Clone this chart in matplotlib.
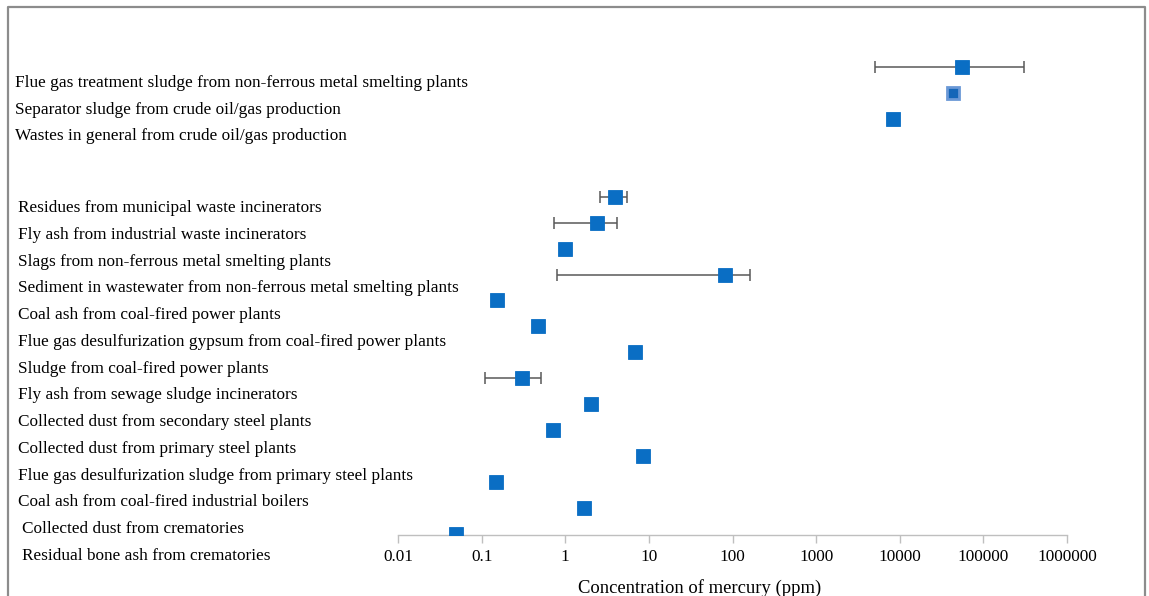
import numpy as np
import matplotlib.pyplot as plt

W, H = 1149, 596

# Waste categories, grouped as drawn (top group: oil/gas and smelting sludge)
top_labels = [
    "Flue gas treatment sludge from non-ferrous metal smelting plants",
    "Separator sludge from crude oil/gas production",
    "Wastes in general from crude oil/gas production",
]
top_values = [55700, 43600, 8340]
top_low = [5100, np.nan, np.nan]
top_high = [307000, np.nan, np.nan]

bottom_labels = [
    "Residues from municipal waste incinerators",
    "Fly ash from industrial waste incinerators",
    "Slags from non-ferrous metal smelting plants",
    "Sediment in wastewater from non-ferrous metal smelting plants",
    "Coal ash from coal-fired power plants",
    "Flue gas desulfurization gypsum from coal-fired power plants",
    "Sludge from coal-fired power plants",
    "Fly ash from sewage sludge incinerators",
    "Collected dust from secondary steel plants",
    "Collected dust from primary steel plants",
    "Flue gas desulfurization sludge from primary steel plants",
    "Coal ash from coal-fired industrial boilers",
    "Collected dust from crematories",
    "Residual bone ash from crematories",
]
bottom_values = [3.95, 2.4, 1.0, 81.5, 0.153, 0.47, 6.8, 0.30, 2.04, 0.71, 8.5, 0.15, 1.68, 0.05]
bottom_low = [2.6, 0.73, np.nan, 0.80, np.nan, np.nan, np.nan, 0.11, np.nan, np.nan, np.nan, np.nan, np.nan, np.nan]
bottom_high = [5.5, 4.17, np.nan, 163, np.nan, np.nan, np.nan, 0.51, np.nan, np.nan, np.nan, np.nan, np.nan, np.nan]

tick_values = [0.01, 0.1, 1, 10, 100, 1000, 10000, 100000, 1000000]
tick_labels = ["0.01", "0.1", "1", "10", "100", "1000", "10000", "100000", "1000000"]

plt.rcParams["font.family"] = ["Liberation Serif", "DejaVu Serif"]
fig = plt.figure(figsize=(W / 100, H / 100), dpi=100)

# outer frame (open at the bottom)
fig.add_artist(plt.Line2D([8 / W, 8 / W, 1145 / W, 1145 / W],
                          [0, 1 - 6.5 / H, 1 - 6.5 / H, 0],
                          transform=fig.transFigure, color="#8c8c8c", lw=1.6))

# axes spans rows -1 .. 18.04 with the x spine at the bottom
ax_left, ax_right = 398, 1067
ax_top, ax_bottom = 41, 535
ax = fig.add_axes([ax_left / W, 1 - ax_bottom / H, (ax_right - ax_left) / W, (ax_bottom - ax_top) / H])
ax.set_xscale("log")
ax.set_xlim(0.01, 1000000)
ax.set_ylim(18.04, -1)
for s in ["top", "right", "left"]:
    ax.spines[s].set_visible(False)
ax.spines["bottom"].set_color("#bfbfbf")
ax.spines["bottom"].set_linewidth(1.0)
ax.set_yticks([])
ax.set_xticks(tick_values)
ax.set_xticklabels(tick_labels, fontsize=12.4)
ax.xaxis.set_minor_locator(plt.NullLocator())
ax.tick_params(axis="x", direction="out", length=6, color="#bfbfbf", width=1.0, pad=4)
ax.set_xlabel("Concentration of mercury (ppm)", fontsize=13.4, labelpad=10)
ax.xaxis.label.set_x((700 - ax_left) / (ax_right - ax_left))
ax.patch.set_alpha(0)

rows_top = np.arange(len(top_values))
rows_bottom = np.arange(len(bottom_values)) + 5
values = np.array(top_values + bottom_values)
lows = np.array(top_low + bottom_low)
highs = np.array(top_high + bottom_high)
rows = np.concatenate([rows_top, rows_bottom])

has_err = ~np.isnan(lows)
ax.errorbar(values[has_err], rows[has_err],
            xerr=[values[has_err] - lows[has_err], highs[has_err] - values[has_err]],
            fmt="none", ecolor="#595959", elinewidth=1.1, capsize=4, capthick=1.1, zorder=2)

blue = "#0a6ec4"
plain = np.ones(len(values), dtype=bool)
plain[1] = False
ax.plot(values[plain], rows[plain], marker="s", ms=10, ls="none",
        mfc=blue, mec=blue, mew=0.6, zorder=3)
# separator sludge drawn with a lighter rim
ax.plot(values[~plain], rows[~plain], mfc="#1466b8", mec="#6a98d6", mew=2.0,
        marker="s", ms=9.0, ls="none", zorder=3)

# category labels, stacked on the left
for i, lab in enumerate(top_labels):
    fig.text(15 / W, 1 - (83 + 26.5 * i) / H, lab, fontsize=12.4, va="center", ha="left")
for i, lab in enumerate(bottom_labels):
    x0 = 22 if i >= 12 else 18
    fig.text(x0 / W, 1 - (208 + 26.77 * i) / H, lab, fontsize=12.4, va="center", ha="left")

fig.savefig("out.png", dpi=100)
